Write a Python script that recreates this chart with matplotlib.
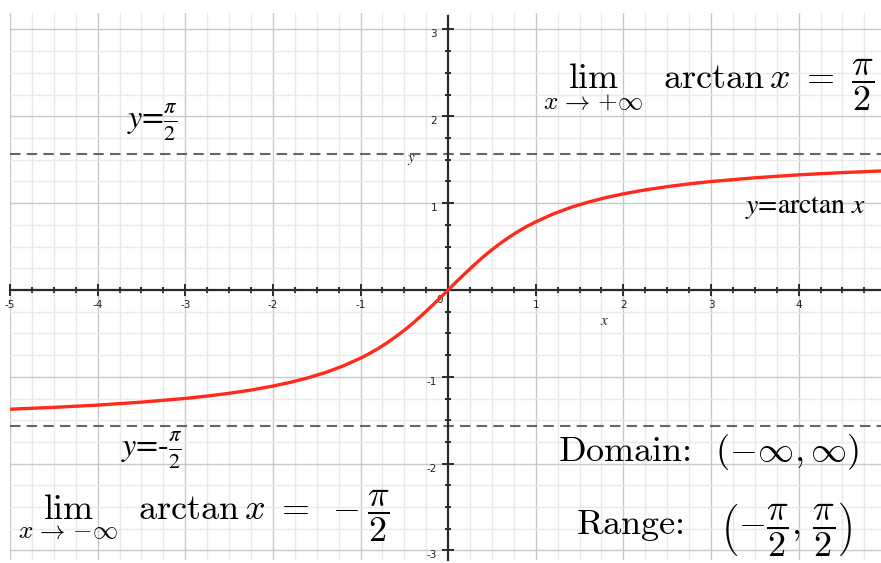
import matplotlib
matplotlib.use("Agg")
import matplotlib.pyplot as plt
from matplotlib.ticker import MultipleLocator

# ---- data ----
curve_x = [-5.0, -4.5, -4.0, -3.5, -3.0, -2.75, -2.5, -2.25, -2.0, -1.8, -1.6, -1.4, -1.2,
           -1.0, -0.9, -0.8, -0.7, -0.6, -0.5, -0.4, -0.3, -0.2, -0.1, 0.0,
           0.1, 0.2, 0.3, 0.4, 0.5, 0.6, 0.7, 0.8, 0.9, 1.0, 1.2, 1.4, 1.6, 1.8,
           2.0, 2.25, 2.5, 2.75, 3.0, 3.5, 4.0, 4.5, 4.95]
curve_y = [-1.373, -1.352, -1.326, -1.292, -1.249, -1.222, -1.190, -1.153, -1.107, -1.064,
           -1.012, -0.951, -0.876, -0.785, -0.733, -0.675, -0.611, -0.540, -0.464, -0.381,
           -0.291, -0.197, -0.100, 0.0,
           0.100, 0.197, 0.291, 0.381, 0.464, 0.540, 0.611, 0.675, 0.733, 0.785, 0.876,
           0.951, 1.012, 1.064, 1.107, 1.153, 1.190, 1.222, 1.249, 1.292, 1.326, 1.352,
           1.371]
asymptotes = [1.5708, -1.5708]
x_ticks = [-5, -4, -3, -2, -1, 1, 2, 3, 4]
x_tick_labels = ["-5", "-4", "-3", "-2", "-1", "1", "2", "3", "4"]
y_ticks = [-3, -2, -1, 1, 2, 3]
y_tick_labels = ["-3", "-2", "-1", "1", "2", "3"]
xlim = (-4.98, 4.94)
ylim = (-3.11, 3.19)

fig = plt.figure(figsize=(8.81, 5.63), dpi=100)
ax = fig.add_axes([10 / 881, 3 / 563, 871 / 881, 547 / 563])
ax.set_xlim(*xlim)
ax.set_ylim(*ylim)

# grid
ax.xaxis.set_minor_locator(MultipleLocator(0.25))
ax.yaxis.set_minor_locator(MultipleLocator(0.25))
ax.set_xticks(x_ticks)
ax.set_xticklabels(x_tick_labels)
ax.set_yticks(y_ticks)
ax.set_yticklabels(y_tick_labels)
ax.grid(which="minor", color="#e9e9e9", lw=1.0, zorder=0)
ax.grid(which="major", color="#c8c8c8", lw=1.0, zorder=0)
ax.set_axisbelow(True)

# axes through origin
for s in ["top", "right"]:
    ax.spines[s].set_visible(False)
ax.spines["left"].set_position(("data", 0))
ax.spines["bottom"].set_position(("data", 0))
for s in ["left", "bottom"]:
    ax.spines[s].set_linewidth(1.6)
    ax.spines[s].set_color("#2a2a2a")
    ax.spines[s].set_zorder(3)
ax.spines["left"].set_bounds(ylim[0], 3.15)

ax.tick_params(which="major", direction="inout", length=8, width=1.4, color="#2a2a2a",
               labelsize=7.5, labelcolor="#222222")
ax.tick_params(which="minor", direction="inout", length=5, width=1.4, color="#2a2a2a")
ax.tick_params(axis="x", pad=3)
ax.tick_params(axis="y", pad=4)
for lab in ax.get_yticklabels():
    lab.set_verticalalignment("top")

ax.text(-0.06, -0.06, "0", fontsize=7.5, color="#222222", ha="right", va="top")

# arrow on y axis
ax.annotate("", xy=(0, 3.2), xytext=(0, 3.0),
            arrowprops=dict(arrowstyle="->", lw=1.6, color="#2a2a2a",
                            mutation_scale=12), zorder=4)

# asymptotes
for a in asymptotes:
    ax.axhline(a, color="#666666", lw=1.5, dashes=(5, 3), zorder=2)

# curve
ax.plot(curve_x, curve_y, color="#ff2a1a", lw=2.4, zorder=5, solid_capstyle="round",
        solid_joinstyle="round")

# labels
ax.text(-0.42, 1.50, r"$y$", fontsize=11, math_fontfamily="stix", ha="center", va="center",
        color="#222222")
ax.text(1.79, -0.35, r"$x$", fontsize=11, math_fontfamily="stix", ha="center", va="center",
        color="#222222")
ax.text(-3.38, 1.93, r"$y$=$\frac{\pi}{2}$", fontsize=23, family="STIXGeneral",
        math_fontfamily="stix", ha="center", va="center")
ax.text(-3.38, -1.85, r"$y$=-$\frac{\pi}{2}$", fontsize=23, family="STIXGeneral",
        math_fontfamily="stix", ha="center", va="center")
ax.text(4.08, 0.95, r"$y$=arctan $x$", fontsize=20, family="STIXGeneral",
        math_fontfamily="stix", ha="center", va="center")

ax.text(2.97, 2.36, r"$\lim_{x\ \to\ +\infty}\ \ \arctan x\ =\ \dfrac{\pi}{2}$", fontsize=26,
        math_fontfamily="cm", ha="center", va="center")
ax.text(-2.79, -2.60, r"$\lim_{x\ \to\ -\infty}\ \ \arctan x\ =\ -\dfrac{\pi}{2}$", fontsize=26,
        math_fontfamily="cm", ha="center", va="center")
ax.text(2.97, -1.87, r"Domain:  $(-\infty,\infty)$", fontsize=26, family="cmr10",
        math_fontfamily="cm", ha="center", va="center")
ax.text(3.03, -2.75, r"Range:   $\left(-\dfrac{\pi}{2},\,\dfrac{\pi}{2}\right)$",
        fontsize=26, family="cmr10", math_fontfamily="cm", ha="center", va="center")

fig.savefig("out.png", dpi=100, facecolor="white")
